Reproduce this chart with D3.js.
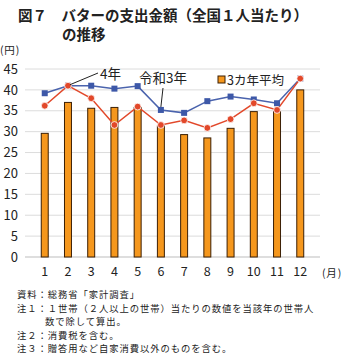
<!DOCTYPE html>
<html><head><meta charset="utf-8">
<script src="https://cdn.jsdelivr.net/npm/d3@7"></script>
<style>
body{margin:0;background:#fff;}
svg{display:block;font-family:"Noto Sans CJK JP","Noto Sans",sans-serif;}
</style></head>
<body><svg id="c" width="345" height="355"></svg>
<script>
const months = ["1","2","3","4","5","6","7","8","9","10","11","12"];
const avg3 = [29.6,37.0,35.6,35.8,35.8,31.4,29.3,28.5,30.8,34.8,34.8,40.0];
const r3 = [39.2,41.0,41.0,40.3,40.9,35.2,34.5,37.3,38.4,37.7,36.8,42.7];
const r4 = [36.2,41.0,38.0,31.6,36.0,31.6,32.7,30.9,33.0,36.8,35.2,42.7];
const yTicks = [0,5,10,15,20,25,30,35,40,45];
const notes = ["資料：総務省「家計調査」","注１：１世帯（２人以上の世帯）当たりの数値を当該年の世帯人","数で除して算出。","注２：消費税を含む。","注３：贈答用など自家消費以外のものを含む。"];

const svg = d3.select("#c");
const x = d3.scaleBand().domain(months).range([25,320]).padding(0.7);
const y = d3.scaleLinear().domain([0,45]).range([257,69]);
const cx = d => x(d) + x.bandwidth()/2;

// title
svg.append("text").attr("x",18).attr("y",21).attr("font-size",14.5).attr("font-weight","bold").attr("fill","#222").text("図７　バターの支出金額（全国１人当たり）");
svg.append("text").attr("x",62).attr("y",40).attr("font-size",14.5).attr("font-weight","bold").attr("fill","#222").text("の推移");
svg.append("text").attr("x",0).attr("y",54).attr("font-size",10.5).attr("letter-spacing",0.8).attr("fill","#222").text("(円)");

// grid
svg.append("g").selectAll("line").data(yTicks).join("line")
  .attr("x1",25).attr("x2",320).attr("y1",d=>y(d)).attr("y2",d=>y(d))
  .attr("stroke",d=>d===0?"#bdbdbd":"#dcdcdc").attr("stroke-width",1);

// y axis labels
const ya = svg.append("g").attr("transform","translate(18,0)")
  .call(d3.axisLeft(y).tickValues(yTicks).tickSize(0).tickPadding(0));
ya.select(".domain").remove();
ya.selectAll("text").attr("font-size",13).attr("fill","#222").attr("font-family","Noto Sans CJK JP");

// x axis labels
const xa = svg.append("g").attr("transform","translate(0,262)")
  .call(d3.axisBottom(x).tickSize(0).tickPadding(5));
xa.select(".domain").remove();
xa.selectAll("text").attr("font-size",12.5).attr("fill","#222").attr("font-family","Noto Sans CJK JP");
svg.append("text").attr("x",322).attr("y",277).attr("font-size",10.5).attr("letter-spacing",0.8).attr("fill","#222").text("(月)");

// bars
svg.append("g").selectAll("rect").data(avg3).join("rect")
  .attr("x",(d,i)=>x(months[i])).attr("width",x.bandwidth())
  .attr("y",d=>y(d)).attr("height",d=>y(0)-y(d))
  .attr("fill","#f5971d").attr("stroke","#3b1f05").attr("stroke-width",1);

// lines
const line = d3.line().x((d,i)=>cx(months[i])).y(d=>y(d));
svg.append("path").datum(r3).attr("d",line).attr("fill","none").attr("stroke","#4a63ad").attr("stroke-width",1.5);
svg.append("path").datum(r4).attr("d",line).attr("fill","none").attr("stroke","#e2482a").attr("stroke-width",1.5);
svg.append("g").selectAll("rect").data(r3).join("rect")
  .attr("x",(d,i)=>cx(months[i])-3).attr("y",d=>y(d)-3).attr("width",6).attr("height",6)
  .attr("fill","#3d58a8");
svg.append("g").selectAll("circle").data(r4).join("circle")
  .attr("cx",(d,i)=>cx(months[i])).attr("cy",d=>y(d)).attr("r",3.4)
  .attr("fill","#e2482a").attr("stroke","#fff").attr("stroke-width",0.8);

// annotations
svg.append("line").attr("x1",cx("2")+2).attr("y1",y(41)-1).attr("x2",98).attr("y2",73).attr("stroke","#222").attr("stroke-width",1);
svg.append("text").attr("x",100).attr("y",79).attr("font-size",13.5).attr("fill","#222").text("4年");
svg.append("line").attr("x1",163).attr("y1",88).attr("x2",cx("6")).attr("y2",y(35.2)-3).attr("stroke","#222").attr("stroke-width",1);
svg.append("text").attr("x",139).attr("y",83).attr("font-size",13.5).attr("fill","#222").text("令和3年");

// legend
svg.append("rect").attr("x",218).attr("y",76).attr("width",7).attr("height",7).attr("fill","#f5971d").attr("stroke","#3b1f05").attr("stroke-width",1);
svg.append("text").attr("x",227).attr("y",84.5).attr("font-size",12.5).attr("fill","#222").text("3カ年平均");

// notes
const ny = [298,311.5,325,338.5,352];
const nx = [17,17,45,17,17];
svg.append("g").selectAll("text").data(notes).join("text")
  .attr("x",(d,i)=>nx[i]).attr("y",(d,i)=>ny[i]).attr("font-size",9.3).attr("letter-spacing",0.95)
  .attr("fill","#222").text(d=>d);
</script></body></html>
